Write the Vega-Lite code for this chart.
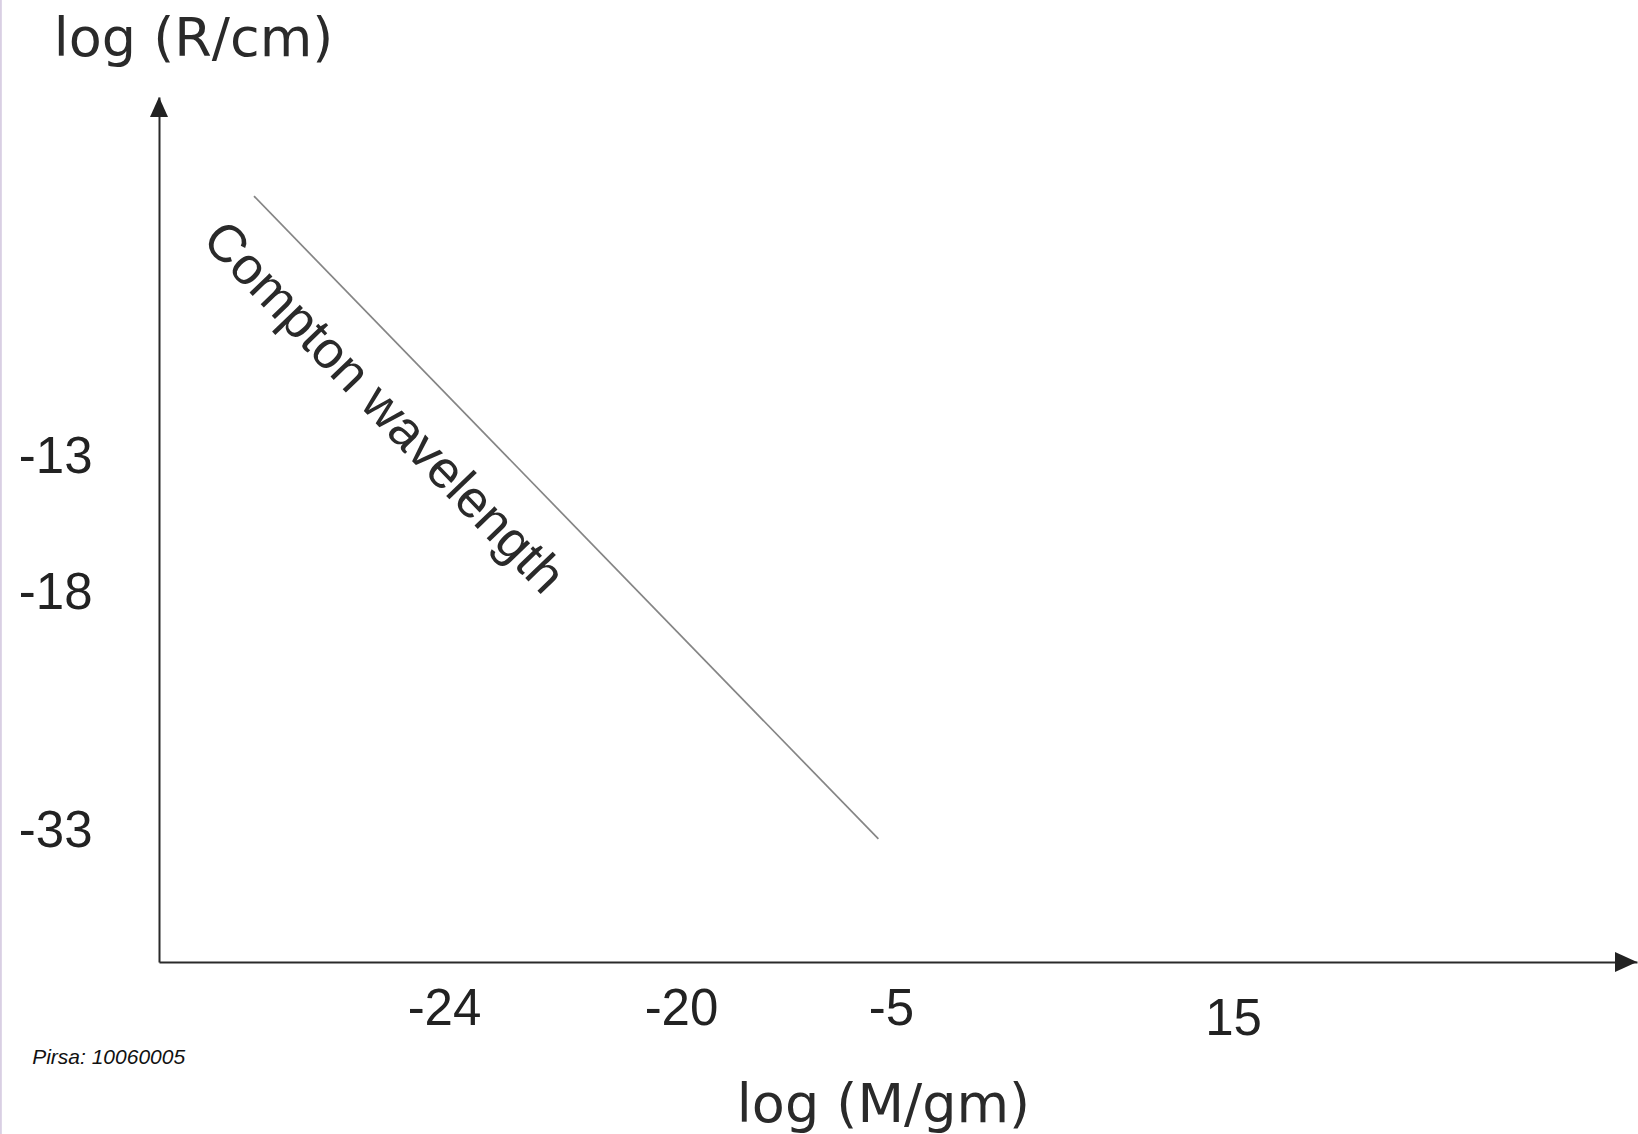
{
  "$schema": "https://vega.github.io/schema/vega-lite/v6.json",
  "autosize": {"type": "none"},
  "width": 1478,
  "height": 865,
  "padding": {"left": 159, "top": 97, "right": 1, "bottom": 172},
  "background": "white",
  "config": {"view": {"stroke": null}},
  "datasets": {
    "compton": [
      {"logM": -28.0, "logR": -7.2},
      {"logM": -5.9, "logR": -33.4}
    ],
    "label": [
      {"logM": -25.28, "logR": -11.9, "text": "Compton wavelength"}
    ],
    "arrowUp": [{"logM": -30, "logR": -5}],
    "arrowRight": [{"logM": 25, "logR": -40}],
    "note": [{"logM": -32.67, "logR": -45.47, "text": "Pirsa: 10060005"}],
    "edge": [{"logM": -33.33, "logR": -52, "logR2": 15}]
  },
  "layer": [
    {
      "data": {"name": "compton"},
      "mark": {"type": "line", "color": "#858585", "strokeWidth": 1.7},
      "encoding": {
        "x": {
          "field": "logM", "type": "quantitative",
          "scale": {"domain": [-30, -24, -20, -5, 15, 25], "range": [0, 285, 522, 732, 1074, 1478], "nice": false, "zero": false},
          "axis": {
            "values": [-24, -20, -5, 15],
            "labelExpr": "datum.value + ''",
            "grid": false, "ticks": false,
            "domainColor": "#2a2a2a", "domainWidth": 2,
            "labelFont": "Liberation Sans", "labelFontSize": 51, "labelColor": "#222222",
            "labelBaseline": "middle", "labelAlign": "center",
            "labelPadding": {"condition": {"test": "datum.value == 15", "value": 57}, "value": 47},
            "labelFlush": false, "labelOverlap": false,
            "title": "log (M/gm)",
            "titleFont": "DejaVu Sans", "titleFontSize": 54, "titleFontWeight": "normal", "titleColor": "#2a2a2a",
            "titleX": 724, "titleY": 159, "titleAlign": "center", "titleBaseline": "alphabetic", "titleAnchor": null
          }
        },
        "y": {
          "field": "logR", "type": "quantitative",
          "scale": {"domain": [-40, -33, -18, -13, -5], "range": [865, 734.5, 496.5, 360.5, 0], "nice": false, "zero": false},
          "axis": {
            "values": [-13, -18, -33],
            "labelExpr": "datum.value + ''",
            "grid": false, "ticks": false,
            "domainColor": "#2a2a2a", "domainWidth": 2,
            "labelFont": "Liberation Sans", "labelFontSize": 51, "labelColor": "#222222",
            "labelBaseline": "middle", "labelAlign": "right", "labelPadding": 67,
            "labelFlush": false, "labelOverlap": false,
            "title": "log (R/cm)",
            "titleFont": "DejaVu Sans", "titleFontSize": 54, "titleFontWeight": "normal", "titleColor": "#2a2a2a",
            "titleAngle": 0, "titleX": 34, "titleY": -42, "titleAlign": "center", "titleBaseline": "alphabetic", "titleAnchor": null
          }
        }
      }
    },
    {
      "data": {"name": "label"},
      "mark": {"type": "text", "angle": 46, "font": "Liberation Sans", "fontSize": 52.5, "color": "#2a2a2a", "align": "center", "baseline": "middle"},
      "encoding": {
        "x": {"field": "logM", "type": "quantitative"},
        "y": {"field": "logR", "type": "quantitative"},
        "text": {"field": "text"}
      }
    },
    {
      "data": {"name": "arrowUp"},
      "mark": {"type": "point", "shape": "M0,0L-0.45,1L0.45,1Z", "size": 1600, "filled": true, "color": "#222222", "opacity": 1},
      "encoding": {
        "x": {"field": "logM", "type": "quantitative"},
        "y": {"field": "logR", "type": "quantitative"}
      }
    },
    {
      "data": {"name": "arrowRight"},
      "mark": {"type": "point", "shape": "M0,0L-1.1,-0.5L-1.1,0.5Z", "size": 1600, "filled": true, "color": "#222222", "opacity": 1},
      "encoding": {
        "x": {"field": "logM", "type": "quantitative"},
        "y": {"field": "logR", "type": "quantitative"}
      }
    },
    {
      "data": {"name": "note"},
      "mark": {"type": "text", "font": "Liberation Sans", "fontStyle": "italic", "fontSize": 21, "color": "#111111", "align": "left", "baseline": "alphabetic"},
      "encoding": {
        "x": {"field": "logM", "type": "quantitative"},
        "y": {"field": "logR", "type": "quantitative"},
        "text": {"field": "text"}
      }
    },
    {
      "data": {"name": "edge"},
      "mark": {"type": "rule", "color": "#d9cfe3", "strokeWidth": 2},
      "encoding": {
        "x": {"field": "logM", "type": "quantitative"},
        "y": {"field": "logR", "type": "quantitative"},
        "y2": {"field": "logR2"}
      }
    }
  ]
}
